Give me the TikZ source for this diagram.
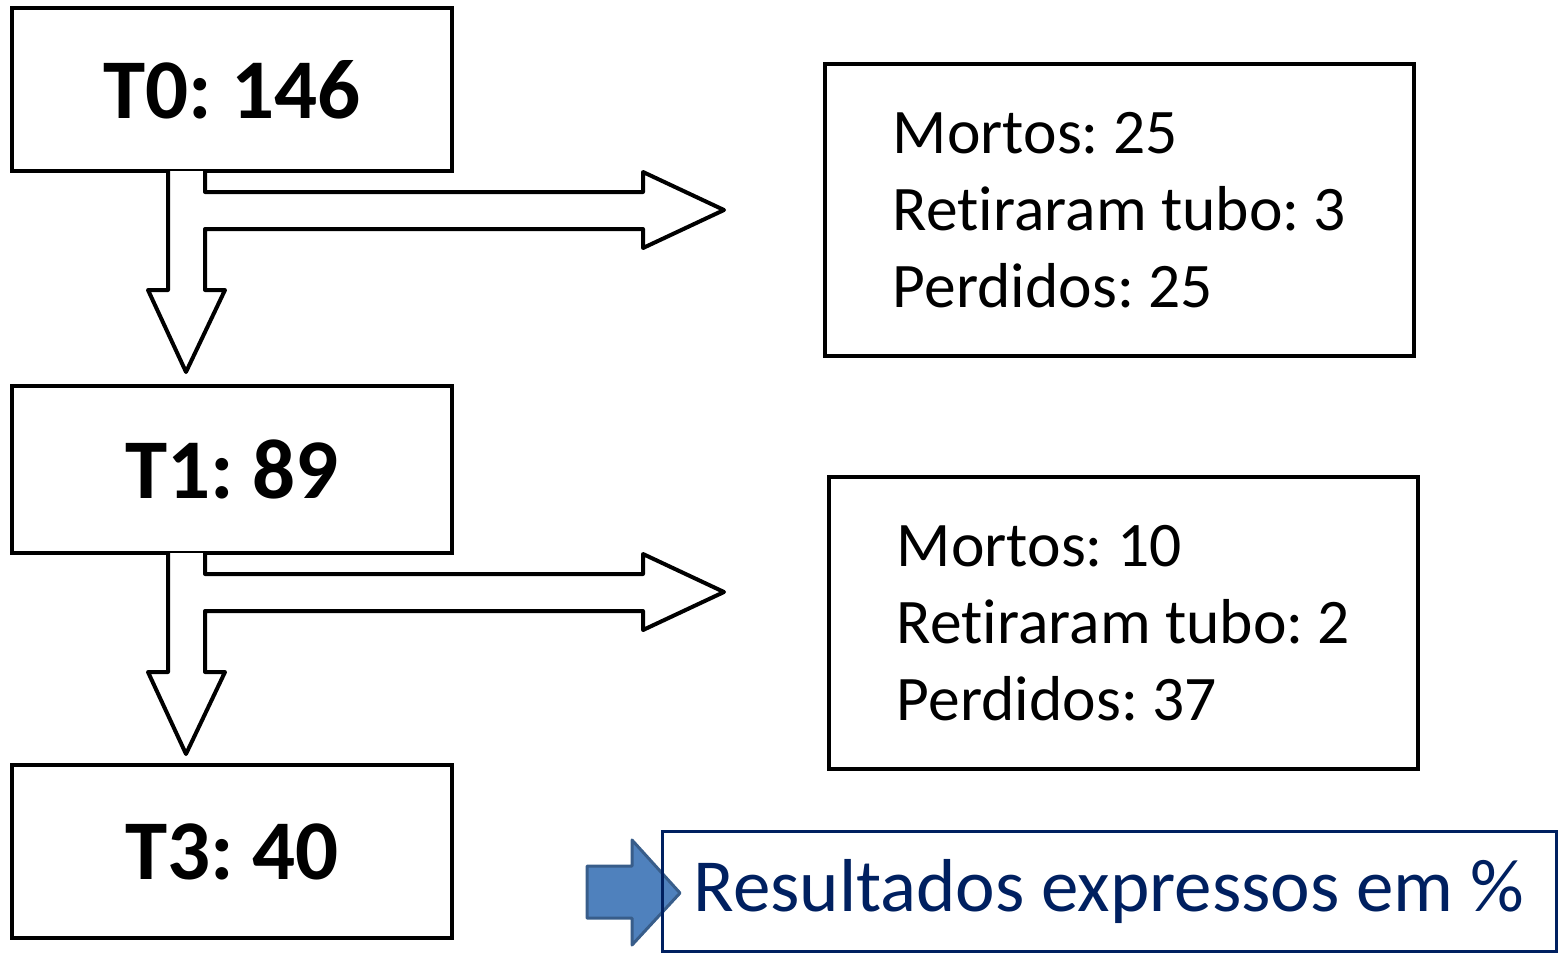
\documentclass[tikz,border=0pt]{standalone}
\usepackage{fontspec}
\setmainfont[Ligatures=NoCommon]{Carlito}
\frenchspacing
\usetikzlibrary{calc,positioning}
\definecolor{navy}{RGB}{0,32,96}
\definecolor{steel}{RGB}{79,129,189}
\definecolor{steeldark}{RGB}{56,93,138}
\tikzstyle{count} = [draw=black, line width=4, minimum width=440, outer sep=0, inner sep=0, font=\fontsize{85}{100}\selectfont\bfseries]
\tikzstyle{losses} = [draw=black, line width=4, minimum width=589, minimum height=292, outer sep=0, align=left, font=\fontsize{63.5}{77}\selectfont]
\tikzstyle{flow} = [draw=black, line width=4, fill=white, line join=round]

\begin{document}
\begin{tikzpicture}[x=1pt, y=-1pt]
    \useasboundingbox (0,0) rectangle (1560,954);

    % patient counts
    \node[count, minimum height=163] (t0) at (232,89.5) {T0: 146};
    \node[count, minimum height=167] (t1) at (232,469.5) {T1: 89};
    \node[count, minimum height=173] (t3) at (232,851.5) {T3: 40};

    % losses between visits
    \node[losses] (l0) at (1119.5,210) {Mortos: 25\\Retiraram tubo: 3\\Perdidos: 25};
    \node[losses] (l1) at (1123.5,623) {Mortos: 10\\Retiraram tubo: 2\\Perdidos: 37};

    % split arrows
    \foreach \src in {t0,t1}
        \draw[flow] ($(\src.south west) + (193,0)$) -- ++(0,21) -- ++(438,0) -- ++(0,-20)
            -- ++(81,38) -- ++(-81,38) -- ++(0,-19) -- ++(-438,0) -- ++(0,61)
            -- ++(20,0) -- ++(-39,82) -- ++(-38,-82) -- ++(20,0) -- ++(0,-119);

    % note
    \coordinate (resw) at (662,891);
    \draw[steeldark, fill=steel, line width=3, line join=round] ($(resw) + (-75,-25)$) -- ++(45,0) -- ++(0,-26)
        -- ++(48,53) -- ++(-48,52) -- ++(0,-27) -- ++(-45,0) -- cycle;
    \node[draw=navy, line width=3, minimum width=894, minimum height=120, outer sep=0, text=navy,
        font=\fontsize{75}{90}\selectfont] (res) at (1109,891) {Resultados expressos em \%};
\end{tikzpicture}
\end{document}
